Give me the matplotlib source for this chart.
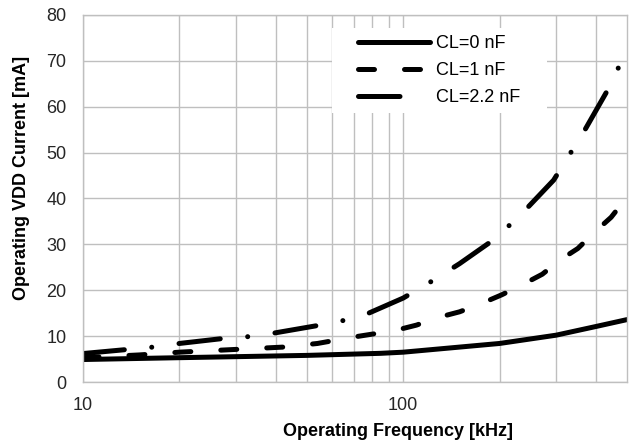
import matplotlib.pyplot as plt
import matplotlib.ticker as mticker
from matplotlib.patches import Rectangle
import numpy as np

plt.rcParams['font.family'] = ['Liberation Sans', 'DejaVu Sans']

# CL=0 nF : frequency [kHz] / current [mA]
f0 = [10, 20, 50, 85, 100, 200, 300, 400, 500]
cl0 = [4.9, 5.3, 5.8, 6.25, 6.5, 8.4, 10.2, 12.1, 13.6]

# CL=1 nF
f1 = [10, 15, 20, 28, 42, 54, 70, 94, 110, 129, 150, 174, 203, 234, 272,
      309, 351, 398, 446, 500]
cl1 = [5.3, 5.9, 6.5, 7.0, 7.6, 8.4, 9.8, 11.2, 12.4, 14.1, 15.3, 17.0, 19.0,
       21.1, 23.5, 26.6, 29.1, 32.8, 35.9, 40.3]

# CL=2.2 nF
f2 = [10, 16.5, 20, 27.5, 33, 39, 55, 65, 78, 100, 123, 150, 188, 215, 246,
      295, 369, 438, 470, 500]
cl22 = [6.2, 7.6, 8.4, 9.5, 9.9, 10.6, 12.4, 13.4, 15.0, 18.3, 22.0, 25.8,
        30.6, 34.2, 38.2, 44.0, 54.9, 64.0, 68.5, 72.0]

labels = ['CL=0 nF', 'CL=1 nF', 'CL=2.2 nF']

fig = plt.figure(figsize=(6.29, 4.48), dpi=100)
ax = fig.add_axes([83/629, 66/448, 544/629, 367/448])

lw = 3.6
ax.plot(f0, cl0, color='black', lw=lw, solid_capstyle='round', label=labels[0])
ax.plot(f1, cl1, color='black', lw=lw, dash_capstyle='round',
        dashes=(3.2, 6.0), label=labels[1])
ax.plot(f2, cl22, color='black', lw=lw, dash_capstyle='round',
        dashes=(8.3, 5.5, 0.01, 5.5), label=labels[2])

ax.set_xscale('log')
ax.set_xlim(10, 500)
ax.set_ylim(0, 80)
ax.set_yticks(np.arange(0, 81, 10))
ax.set_xticks([10, 100])
ax.xaxis.set_major_formatter(mticker.FormatStrFormatter('%d'))
ax.xaxis.set_minor_locator(mticker.FixedLocator([20, 30, 40, 50, 60, 70, 80, 90,
                                                 200, 300, 400]))
ax.xaxis.set_minor_formatter(mticker.NullFormatter())

ax.grid(True, which='both', color='#bfbfbf', lw=1.0)
ax.set_axisbelow(True)
for s in ax.spines.values():
    s.set_color('#bfbfbf')
    s.set_linewidth(1.0)

ax.tick_params(axis='both', which='both', length=0, labelsize=13, colors='#262626')
ax.tick_params(axis='y', pad=12)
ax.tick_params(axis='x', pad=11)

ax.set_xlabel('Operating Frequency [kHz]', fontsize=13, fontweight='bold')
ax.set_ylabel('Operating VDD Current [mA]', fontsize=13, fontweight='bold')
ax.xaxis.set_label_coords(0.579, -0.112)
ax.yaxis.set_label_coords(-0.097, 0.555)

# white legend background hiding the grid
ax.add_patch(Rectangle((0.4577, 0.733), 0.3953, 0.2316, transform=ax.transAxes,
                       facecolor='white', edgecolor='none', zorder=1.5))

leg = ax.legend(loc='upper left', bbox_to_anchor=(0.4926, 0.965), borderaxespad=0,
                fontsize=13, frameon=False, handlelength=4.0,
                handletextpad=0.33, labelspacing=0.55, borderpad=0.4)
# in the legend only the first dash of the dash-dot pattern shows
leg.get_lines()[2].set_dashes((8.3, 12))

fig.savefig('out.png', dpi=100)
